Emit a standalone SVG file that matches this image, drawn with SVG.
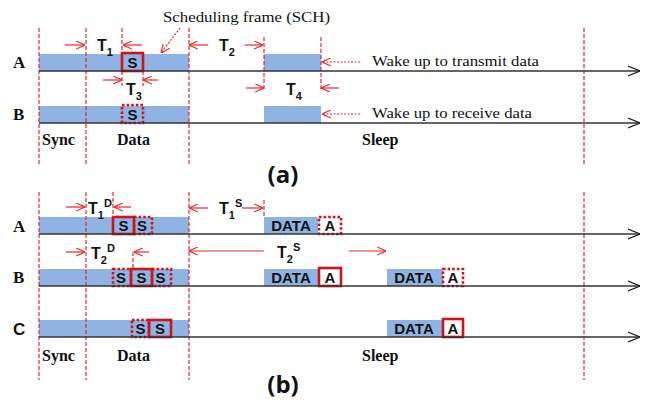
<svg xmlns="http://www.w3.org/2000/svg" width="646" height="403" viewBox="0 0 646 403">
<defs>
<marker id="ar" viewBox="0 0 10 10" refX="10" refY="5" markerWidth="9" markerHeight="9" markerUnits="userSpaceOnUse" orient="auto"><path d="M0,0.5 L10,5 L0,9.5" fill="none" stroke="#e8262a" stroke-width="1.3"/></marker>
<marker id="ak" viewBox="0 0 12 12" refX="12" refY="6" markerWidth="12" markerHeight="12" markerUnits="userSpaceOnUse" orient="auto"><path d="M0,1 L12,6 L0,11" fill="none" stroke="#222" stroke-width="1.3"/></marker>
</defs>
<style>
.vd{stroke:#e8262a;stroke-width:1.2;stroke-dasharray:4 2;fill:none}
.tl{stroke:#333;stroke-width:1.4;fill:none}
.bar{fill:#8fb4e3}
.dim{stroke:#e8262a;stroke-width:1.2;fill:none}
.dot{stroke:#e8262a;stroke-width:1.2;stroke-dasharray:2 1.5;fill:none}
.bs{fill:none;stroke:#d0131a;stroke-width:2.6}
.bd{fill:none;stroke:#d0131a;stroke-width:2.6;stroke-dasharray:2.6 2}
.st{font-family:"Liberation Sans",Arial,sans-serif;font-weight:bold;font-size:15px;fill:#111;text-anchor:middle}
.tt{font-family:"Liberation Sans",Arial,sans-serif;font-weight:bold;font-size:16px;fill:#111}
.sub{font-size:11px}
.rl{font-family:"Liberation Serif","Times New Roman",serif;font-weight:bold;font-size:17px;fill:#111}
.ph{font-family:"Liberation Serif","Times New Roman",serif;font-weight:bold;font-size:16px;fill:#111}
.nt{font-family:"Liberation Serif","Times New Roman",serif;font-size:15px;fill:#111}
.cap{font-family:"Open Sans","Liberation Sans",sans-serif;font-weight:bold;font-size:24px;fill:#111;text-anchor:middle}
</style>
<rect width="646" height="403" fill="#fff"/>

<g id="panel-a">
<g id="a-bars">
<rect class="bar" x="39" y="54" width="150" height="17"/>
<rect class="bar" x="264" y="54" width="57" height="17"/>
<rect class="bar" x="39" y="106" width="150" height="17"/>
<rect class="bar" x="264" y="106" width="57" height="17"/>
</g>
<g id="a-sA"><rect class="bs" x="122" y="53" width="21" height="18"/><text class="st" x="132.5" y="67.5">S</text></g>
<g id="a-sB"><rect class="bd" x="122" y="105" width="21" height="18"/><text class="st" x="132.5" y="119.5">S</text></g>
<text class="rl" x="13" y="68">A</text>
<text class="rl" x="13" y="120">B</text>
<text class="ph" x="42" y="145">Sync</text>
<text class="ph" x="117" y="145">Data</text>
<text class="ph" x="362" y="145">Sleep</text>
<text class="nt" x="163" y="22" textLength="167" lengthAdjust="spacingAndGlyphs">Scheduling frame (SCH)</text>
<text class="nt" x="372" y="66" textLength="167" lengthAdjust="spacingAndGlyphs">Wake up to transmit data</text>
<text class="nt" x="372" y="118" textLength="160" lengthAdjust="spacingAndGlyphs">Wake up to receive data</text>
<text class="tt" x="97" y="51">T<tspan class="sub" dy="5">1</tspan></text>
<text class="tt" x="219" y="51">T<tspan class="sub" dy="5">2</tspan></text>
<text class="tt" x="126" y="95">T<tspan class="sub" dy="5">3</tspan></text>
<text class="tt" x="286" y="95">T<tspan class="sub" dy="5">4</tspan></text>
<text class="cap" x="283" y="183">(a)</text>
</g>

<g id="panel-b">
<g id="b-bars">
<rect class="bar" x="39" y="217" width="150" height="17"/>
<rect class="bar" x="264" y="217" width="54" height="17"/>
<rect class="bar" x="39" y="269" width="150" height="17"/>
<rect class="bar" x="264" y="269" width="54" height="17"/>
<rect class="bar" x="387" y="269" width="56" height="17"/>
<rect class="bar" x="39" y="320" width="150" height="17"/>
<rect class="bar" x="387" y="320" width="56" height="17"/>
</g>
<g id="b-A-S1"><rect class="bs" x="113" y="217" width="21" height="17"/><text class="st" x="123.5" y="231">S</text></g>
<g id="b-A-S2"><rect class="bd" x="134" y="217" width="18" height="17"/><text class="st" x="142" y="231">S</text></g>
<g id="b-B-S1"><rect class="bd" x="113" y="269" width="18" height="17"/><text class="st" x="121" y="283">S</text></g>
<g id="b-B-S2"><rect class="bs" x="131" y="269" width="21" height="17"/><text class="st" x="141.5" y="283">S</text></g>
<g id="b-B-S3"><rect class="bd" x="152" y="269" width="19" height="17"/><text class="st" x="160.5" y="283">S</text></g>
<g id="b-C-S1"><rect class="bd" x="132" y="320" width="17" height="17"/><text class="st" x="140.5" y="334">S</text></g>
<g id="b-C-S2"><rect class="bs" x="149" y="320" width="22" height="17"/><text class="st" x="160" y="334">S</text></g>
<text class="st" x="291" y="231">DATA</text>
<g id="b-A-A"><rect class="bd" x="319" y="217" width="22" height="17"/><text class="st" x="330" y="231">A</text></g>
<text class="st" x="291" y="283">DATA</text>
<g id="b-B-A1"><rect class="bs" x="319" y="268" width="22" height="18"/><text class="st" x="330" y="283">A</text></g>
<text class="st" x="414" y="283">DATA</text>
<g id="b-B-A2"><rect class="bd" x="443" y="269" width="20" height="17"/><text class="st" x="453" y="283">A</text></g>
<text class="st" x="414" y="334">DATA</text>
<g id="b-C-A"><rect class="bs" x="443" y="319" width="20" height="18"/><text class="st" x="453" y="334">A</text></g>
<text class="rl" x="13" y="232">A</text>
<text class="rl" x="13" y="283">B</text>
<text class="tt" x="13" y="335" style="font-size:17px">C</text>
<text class="ph" x="42" y="361">Sync</text>
<text class="ph" x="117" y="361">Data</text>
<text class="ph" x="362" y="361">Sleep</text>
<text class="tt" x="88" y="214">T<tspan class="sub" dy="5">1</tspan><tspan class="sub" dy="-12">D</tspan></text>
<text class="tt" x="219" y="214">T<tspan class="sub" dy="5">1</tspan><tspan class="sub" dy="-12">S</tspan></text>
<text class="tt" x="91" y="259">T<tspan class="sub" dy="5">2</tspan><tspan class="sub" dy="-12">D</tspan></text>
<text class="tt" x="277" y="258">T<tspan class="sub" dy="5">2</tspan><tspan class="sub" dy="-12">S</tspan></text>
<text class="cap" x="283" y="393">(b)</text>
</g>

<g id="connectors">
<g id="guides">
<path class="vd" d="M39,28V165M86,28V165M189,28V165M584,28V165"/>
<path class="vd" d="M122,28V53M122,71V86M143,71V86M264,37V90M321,37V90"/>
<path class="vd" d="M39,192V380M86,192V380M189,192V380M584,192V380"/>
<path class="vd" d="M113,192V217M264,200V217M133,252V269"/>
</g>
<g id="timelines">
<path class="tl" d="M39,71H640" marker-end="url(#ak)"/>
<path class="tl" d="M39,123H640" marker-end="url(#ak)"/>
<path class="tl" d="M39,234H640" marker-end="url(#ak)"/>
<path class="tl" d="M39,286H640" marker-end="url(#ak)"/>
<path class="tl" d="M39,337H640" marker-end="url(#ak)"/>
</g>
<g id="dims">
<path class="dim" d="M65,45H85" marker-end="url(#ar)"/>
<path class="dim" d="M142,45H123" marker-end="url(#ar)"/>
<path class="dim" d="M208,45H189" marker-end="url(#ar)"/>
<path class="dim" d="M245,45H263" marker-end="url(#ar)"/>
<path class="dim" d="M103,80H122" marker-end="url(#ar)"/>
<path class="dim" d="M158,80H143" marker-end="url(#ar)"/>
<path class="dim" d="M246,88H264" marker-end="url(#ar)"/>
<path class="dim" d="M339,88H321" marker-end="url(#ar)"/>
<path class="dot" d="M360,62H322" marker-end="url(#ar)"/>
<path class="dot" d="M360,114H322" marker-end="url(#ar)"/>
<path class="dot" d="M180,28L161,53" marker-end="url(#ar)"/>
<path class="dim" d="M66,207H85" marker-end="url(#ar)"/>
<path class="dim" d="M131,207H114" marker-end="url(#ar)"/>
<path class="dim" d="M208,208H189" marker-end="url(#ar)"/>
<path class="dim" d="M242,208H263" marker-end="url(#ar)"/>
<path class="dim" d="M66,252H85" marker-end="url(#ar)"/>
<path class="dim" d="M149,252H134" marker-end="url(#ar)"/>
<path class="dim" d="M264,251H189" marker-end="url(#ar)"/>
<path class="dim" d="M349,251H386" marker-end="url(#ar)"/>
</g>
</g>
</svg>
